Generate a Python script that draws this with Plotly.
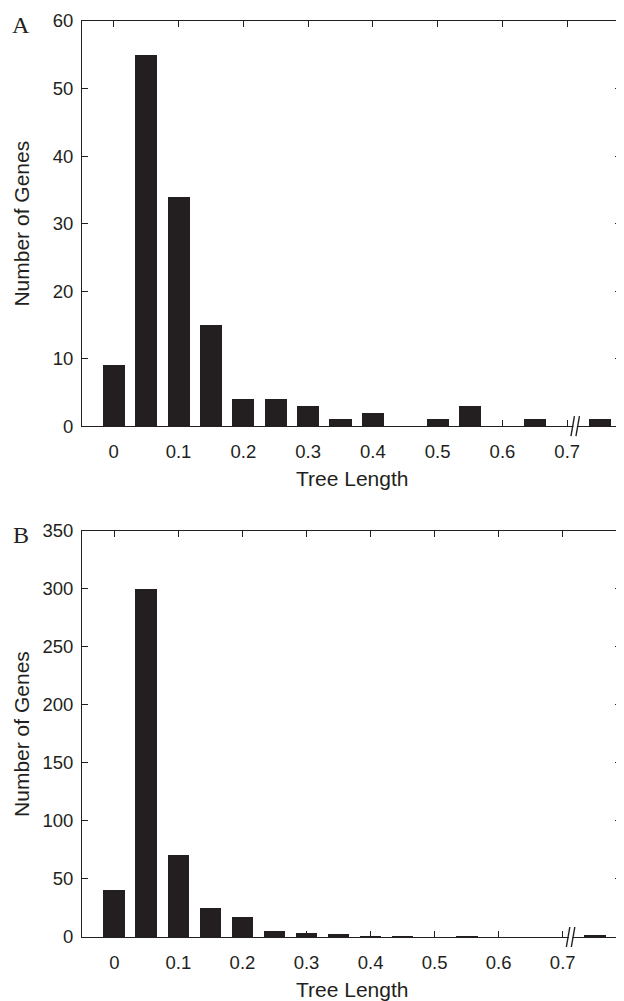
import plotly.graph_objects as go
from plotly.subplots import make_subplots

# ---- data ----
bin_centers = [0.0, 0.05, 0.10, 0.15, 0.20, 0.25, 0.30, 0.35, 0.40, 0.45,
               0.50, 0.55, 0.60, 0.65, 0.70, 0.75]
counts_a = [9, 55, 34, 15, 4, 4, 3, 1, 2, 0, 1, 3, 0, 1, 0, 1]
counts_b = [41, 300, 71, 25, 17, 5, 4, 3, 1, 1, 0, 1, 0, 0, 0, 2]

x_tickvals = [0, 0.1, 0.2, 0.3, 0.4, 0.5, 0.6, 0.7]
x_ticktext = ["0", "0.1", "0.2", "0.3", "0.4", "0.5", "0.6", "0.7"]
ya_tickvals = [0, 10, 20, 30, 40, 50, 60]
yb_tickvals = [0, 50, 100, 150, 200, 250, 300, 350]
break_x = 0.715

panel_labels = ["A", "B"]
x_title = "Tree Length"
y_title = "Number of Genes"

INK = "#231f20"
SANS = "Liberation Sans, Arial, Helvetica, sans-serif"
SERIF = "Liberation Serif, Times New Roman, serif"

# page body has an 8px margin: figure is sized to fit inside the window
FIG_W, FIG_H = 616, 993
DOM_A = [0.5577, 1.0]
DOM_B = [0.0, 0.4434]

fig = make_subplots(rows=2, cols=1)

fig.add_trace(go.Bar(x=bin_centers, y=counts_a, width=0.034,
                     marker=dict(color=INK, line=dict(width=0)),
                     showlegend=False), row=1, col=1)
fig.add_trace(go.Bar(x=bin_centers, y=counts_b, width=0.034,
                     marker=dict(color=INK, line=dict(width=0)),
                     showlegend=False), row=2, col=1)

xcommon = dict(tickvals=x_tickvals, ticktext=x_ticktext, ticks="inside",
               ticklen=6, tickwidth=1, tickcolor=INK, showline=True,
               linecolor=INK, linewidth=1, mirror="ticks", showgrid=False,
               zeroline=False, tickfont=dict(family=SANS, size=18.5, color=INK),
               ticklabelstandoff=9)
ycommon = dict(ticks="inside", ticklen=6, tickwidth=1, tickcolor=INK,
               showline=True, linecolor=INK, linewidth=1, mirror="ticks",
               showgrid=False, zeroline=False,
               tickfont=dict(family=SANS, size=18.5, color=INK),
               ticklabelstandoff=4)

fig.update_xaxes(range=[-0.049, 0.783], **xcommon, row=1, col=1)
fig.update_xaxes(range=[-0.0505, 0.791], **xcommon, row=2, col=1)
fig.update_yaxes(range=[0, 60], tickvals=ya_tickvals, **ycommon, row=1, col=1)
fig.update_yaxes(range=[0, 350], tickvals=yb_tickvals, **ycommon, row=2, col=1)

fig.update_layout(
    width=FIG_W, height=FIG_H,
    margin=dict(l=74, r=2, t=11, b=64),
    plot_bgcolor="white", paper_bgcolor="white",
    bargap=0,
    xaxis=dict(domain=[0, 1]), yaxis=dict(domain=DOM_A),
    xaxis2=dict(domain=[0, 1]), yaxis2=dict(domain=DOM_B),
)

annotations = []
for i, (xr, yr) in enumerate([("x", "y"), ("x2", "y2")]):
    xd = xr + " domain"
    yd = yr + " domain"
    annotations.append(dict(text=x_title, xref=xd, yref=yd, x=0.5, y=0,
                            xanchor="center", yanchor="middle", yshift=-52,
                            showarrow=False,
                            font=dict(family=SANS, size=21, color=INK)))
    annotations.append(dict(text=y_title, xref=xd, yref=yd, x=0, y=0.5,
                            xanchor="center", yanchor="middle", xshift=-60,
                            textangle=-90, showarrow=False,
                            font=dict(family=SANS, size=21, color=INK)))
    annotations.append(dict(text=panel_labels[i], xref=xd, yref=yd, x=0, y=1,
                            xanchor="center", yanchor="middle", xshift=-61,
                            yshift=-4, showarrow=False,
                            font=dict(family=SERIF, size=24, color=INK)))
fig.update_layout(annotations=annotations)

shapes = []
for xr, dom in [("x", DOM_A), ("x2", DOM_B)]:
    # small white gap in the axis line between the break marks
    shapes.append(dict(type="line", xref=xr, yref="paper",
                       xsizemode="pixel", xanchor=break_x,
                       ysizemode="pixel", yanchor=dom[0],
                       x0=-3.5, x1=0, y0=0, y1=0,
                       line=dict(color="white", width=3)))
    for off in (-6, -1):
        shapes.append(dict(type="line", xref=xr, yref="paper",
                           xsizemode="pixel", xanchor=break_x,
                           ysizemode="pixel", yanchor=dom[0],
                           x0=off, x1=off + 3.5, y0=-10, y1=10,
                           line=dict(color=INK, width=1.4)))
fig.update_layout(shapes=shapes)

fig.write_html("out.html")
